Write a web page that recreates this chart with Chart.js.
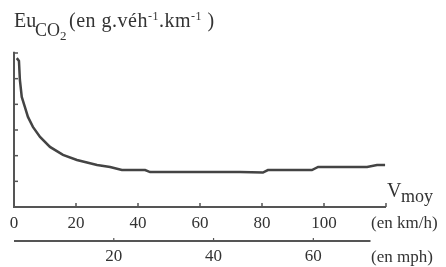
<!DOCTYPE html>
<html>
<head>
<meta charset="utf-8">
<script src="https://cdn.jsdelivr.net/npm/chart.js@4.4.0/dist/chart.umd.min.js"></script>
<style>
  html, body { margin: 0; padding: 0; background: #fff; }
  #wrap { position: relative; width: 446px; height: 267px; }
  #euChart { display: block; }
  .lbl { position: absolute; font-family: 'Liberation Serif', 'DejaVu Serif', serif; color: #333; white-space: nowrap; line-height: 1; }
  .sup { font-size: 12px; vertical-align: 7px; }
</style>
</head>
<body>
<div id="wrap">
  <canvas id="euChart" width="446" height="267"></canvas>
  <div class="lbl" style="left:14px; top:10px; font-size:20px;">Eu</div>
  <div class="lbl" style="left:35px; top:21px; font-size:18px;">CO</div>
  <div class="lbl" style="left:60px; top:29px; font-size:13px;">2</div>
  <div class="lbl" style="left:69px; top:10px; font-size:20px; letter-spacing:0.5px;">(en g.véh<span class="sup">-1</span>.km<span class="sup">-1</span> )</div>
  <div class="lbl" style="left:387px; top:180px; font-size:20px;">V</div>
  <div class="lbl" style="left:401px; top:187px; font-size:18px;">moy</div>
  <div class="lbl" style="left:371px; top:214px; font-size:17px;">(en km/h)</div>
  <div class="lbl" style="left:371px; top:248px; font-size:17px;">(en mph)</div>
</div>
<script>
// vitesse moyenne (km/h) et emission unitaire de CO2 (unites relatives, pas de graduation lue)
var speedKmh = [0.9, 1.6, 1.9, 2.5, 3.5, 4.5, 6.1, 8.4, 11.6, 15.8, 20.3, 26.8, 31.0, 34.8, 42.3, 43.9, 72.9, 80.3, 81.9, 96.1, 98.1, 113.9, 117.1, 119.7];
var emission = [5.80, 5.69, 4.95, 4.29, 3.90, 3.51, 3.12, 2.73, 2.34, 2.03, 1.83, 1.64, 1.56, 1.44, 1.44, 1.36, 1.36, 1.34, 1.44, 1.44, 1.56, 1.56, 1.64, 1.64];

var kmhTicks = [0, 20, 40, 60, 80, 100, 120];
var kmhLabels = ['0', '20', '40', '60', '80', '100', ''];
var mphTicks = [20, 40, 60];
var mphLabels = ['20', '40', '60'];
var yTicks = [1, 2, 3, 4, 5, 6];

var kmhMax = 120;
var mphAxisEnd = 115; // la ligne mph s'arrete avant la fin
var KMH_PER_MPH = 1.609344;

var points = [];
for (var i = 0; i < speedKmh.length; i++) {
    points.push({ x: speedKmh[i], y: emission[i] });
}

var axisColor = '#555';

// axes dessines a la main (traits + petites graduations vers l'interieur)
var axesPlugin = {
    id: 'axesPlugin',
    afterDraw: function(chart) {
        var ctx = chart.ctx;
        var x = chart.scales.x;
        var x2 = chart.scales.x2;
        var y = chart.scales.y;
        var x0 = x.getPixelForValue(0);
        var y0 = y.getPixelForValue(0);

        ctx.save();
        ctx.strokeStyle = axisColor;
        ctx.lineWidth = 2;
        ctx.beginPath();
        ctx.moveTo(x0, y.getPixelForValue(6.05));
        ctx.lineTo(x0, y0);
        ctx.lineTo(x.getPixelForValue(kmhMax), y0);
        ctx.stroke();

        ctx.lineWidth = 1.5;
        yTicks.forEach(function(v) {
            var py = y.getPixelForValue(v);
            ctx.beginPath();
            ctx.moveTo(x0, py);
            ctx.lineTo(x0 + 4, py);
            ctx.stroke();
        });
        kmhTicks.forEach(function(v) {
            var px = x.getPixelForValue(v);
            ctx.beginPath();
            ctx.moveTo(px, y0);
            ctx.lineTo(px, y0 - 4);
            ctx.stroke();
        });

        // echelle mph
        var ym = x2.top + 8;
        ctx.lineWidth = 1.8;
        ctx.beginPath();
        ctx.moveTo(x0, ym);
        ctx.lineTo(x.getPixelForValue(mphAxisEnd), ym);
        ctx.stroke();
        ctx.lineWidth = 1.2;
        mphTicks.forEach(function(v) {
            var px = x2.getPixelForValue(v);
            ctx.beginPath();
            ctx.moveTo(px, ym);
            ctx.lineTo(px, ym - 3);
            ctx.stroke();
        });
        ctx.restore();
    }
};

var serif = "'Liberation Serif', 'DejaVu Serif', serif";

new Chart(document.getElementById('euChart').getContext('2d'), {
    type: 'line',
    data: {
        datasets: [{
            data: points,
            borderColor: '#444',
            borderWidth: 2.5,
            pointRadius: 0,
            tension: 0,
            fill: false
        }]
    },
    options: {
        responsive: false,
        animation: false,
        layout: { padding: { left: 14, right: 60, top: 53, bottom: 0 } },
        plugins: { legend: { display: false }, tooltip: { enabled: false } },
        scales: {
            x: {
                type: 'linear',
                position: 'bottom',
                min: 0,
                max: kmhMax,
                grid: { display: false, drawTicks: false, tickLength: 0 },
                border: { display: false },
                afterBuildTicks: function(scale) {
                    scale.ticks = kmhTicks.map(function(v) { return { value: v }; });
                },
                afterFit: function(scale) { scale.height = 26; },
                ticks: {
                    padding: 6,
                    color: '#333',
                    font: { family: serif, size: 17 },
                    maxRotation: 0,
                    autoSkip: false,
                    callback: function(value) {
                        return kmhLabels[kmhTicks.indexOf(value)];
                    }
                }
            },
            x2: {
                type: 'linear',
                position: 'bottom',
                min: 0,
                max: kmhMax / KMH_PER_MPH,
                grid: { display: false, drawTicks: false, tickLength: 0 },
                border: { display: false },
                afterBuildTicks: function(scale) {
                    scale.ticks = mphTicks.map(function(v) { return { value: v }; });
                },
                afterFit: function(scale) { scale.height = 34; },
                ticks: {
                    padding: 13,
                    color: '#333',
                    font: { family: serif, size: 17 },
                    maxRotation: 0,
                    autoSkip: false,
                    callback: function(value) {
                        return mphLabels[mphTicks.indexOf(value)];
                    }
                }
            },
            y: {
                display: false,
                min: 0,
                max: 6
            }
        }
    },
    plugins: [axesPlugin]
});
</script>
</body>
</html>
